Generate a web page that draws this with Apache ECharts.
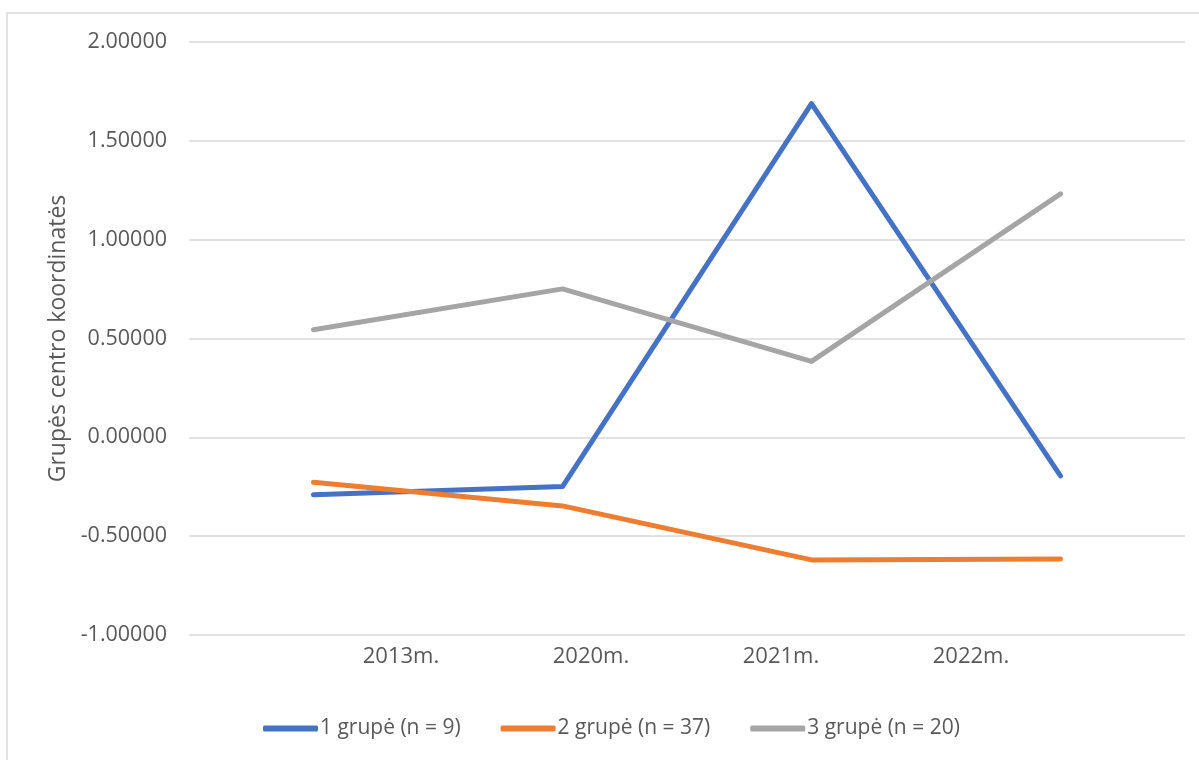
<!DOCTYPE html>
<html>
<head>
<meta charset="utf-8">
<script src="https://cdn.jsdelivr.net/npm/echarts@6/dist/echarts.min.js"></script>
<style>
  html, body { margin: 0; padding: 0; background: #fff; }
  #main { width: 1199px; height: 760px; }
</style>
</head>
<body>
<div id="main"></div>
<script>
// data
const categories = ['2013m.', '2020m.', '2021m.', '2022m.']
const group1 = [-0.291, -0.249, 1.688, -0.195]
const group2 = [-0.227, -0.347, -0.620, -0.616]
const group3 = [0.544, 0.751, 0.384, 1.232]
const seriesNames = ['1 grupė (n = 9)', '2 grupė (n = 37)', '3 grupė (n = 20)']
const yTicks = { min: -1, max: 2, interval: 0.5 }

const FONT = 'Open Sans'
const TEXT = '#595959'
const GRID = '#D9D9D9'
const colors = ['#4472C4', '#ED7D31', '#A5A5A5']

const chart = echarts.init(document.getElementById('main'))

function lineSeries(name, data, color) {
  return {
    name: name,
    type: 'line',
    xAxisIndex: 0,
    yAxisIndex: 0,
    data: data,
    showSymbol: false,
    symbol: 'none',
    lineStyle: { color: color, width: 5, cap: 'round', join: 'round' },
    itemStyle: { color: color },
    emphasis: { disabled: true },
  }
}

const option = {
  animation: false,
  backgroundColor: '#fff',
  textStyle: { fontFamily: FONT },
  graphic: [
    {
      type: 'rect',
      shape: { x: 7, y: 13, width: 1300, height: 900 },
      style: { fill: 'none', stroke: GRID, lineWidth: 1.5 },
      silent: true,
    },
  ],
  legend: {
    left: 263,
    top: 718,
    padding: 0,
    itemWidth: 55,
    itemHeight: 6,
    itemGap: 40,
    icon: 'roundRect',
    textStyle: { color: TEXT, fontSize: 21, fontFamily: FONT, padding: [0, 0, 0, -3] },
    data: seriesNames,
  },
  grid: [
    { left: 189, right: 14, top: 42, bottom: 125 },
    // label row is spaced differently from the data points in the original
    { left: 306, right: 133, top: 42, bottom: 125 },
  ],
  xAxis: [
    {
      type: 'category',
      gridIndex: 0,
      boundaryGap: true,
      data: categories,
      axisLine: { show: false },
      axisTick: { show: false },
      axisLabel: { show: false },
    },
    {
      type: 'category',
      gridIndex: 1,
      boundaryGap: true,
      data: categories,
      axisLine: { show: false },
      axisTick: { show: false },
      axisLabel: { color: TEXT, fontSize: 22, fontFamily: FONT, margin: 11 },
    },
  ],
  yAxis: [
    {
      type: 'value',
      gridIndex: 0,
      min: yTicks.min,
      max: yTicks.max,
      interval: yTicks.interval,
      name: 'Grupės centro koordinatės',
      nameLocation: 'middle',
      nameGap: 117,
      nameTextStyle: { color: TEXT, fontSize: 23, fontFamily: FONT },
      axisLine: { show: false },
      axisTick: { show: false },
      axisLabel: {
        color: TEXT,
        fontSize: 21.5,
        fontFamily: FONT,
        margin: 22,
        formatter: (v) => v.toFixed(5),
      },
      splitLine: { lineStyle: { color: GRID, width: 1.5 } },
    },
    {
      type: 'value',
      gridIndex: 1,
      min: 0,
      max: 1,
      show: false,
    },
  ],
  series: [
    lineSeries(seriesNames[0], group1, colors[0]),
    lineSeries(seriesNames[1], group2, colors[1]),
    lineSeries(seriesNames[2], group3, colors[2]),
  ],
}

option && chart.setOption(option)
</script>
</body>
</html>
